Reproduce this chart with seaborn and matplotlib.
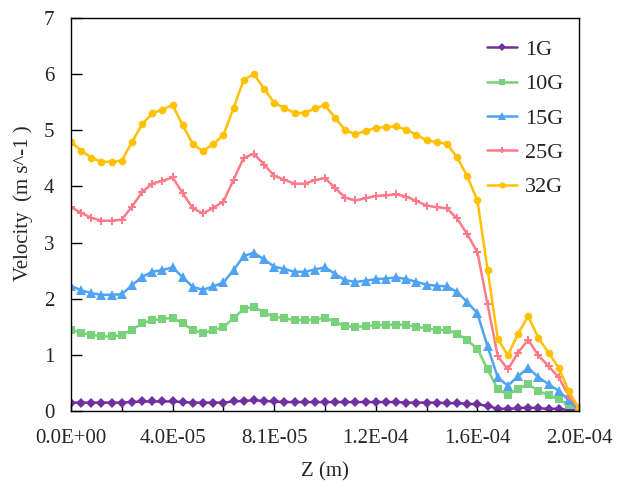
import numpy as np
import pandas as pd
import matplotlib

matplotlib.use("Agg")
import matplotlib.pyplot as plt
import seaborn as sns

# ===================== data =====================
z = np.linspace(0, 2.025e-4, 51)

v_1g = [0.15, 0.15, 0.15, 0.15, 0.15, 0.15, 0.16, 0.17, 0.17, 0.17,
        0.17, 0.16, 0.15, 0.15, 0.15, 0.15, 0.17, 0.18, 0.19, 0.18,
        0.17, 0.16, 0.16, 0.16, 0.16, 0.16, 0.16, 0.16, 0.16, 0.16,
        0.16, 0.16, 0.16, 0.15, 0.15, 0.15, 0.15, 0.14, 0.14, 0.13,
        0.12, 0.09, 0.04, 0.04, 0.05, 0.06, 0.05, 0.04, 0.04, 0.02, 0.02]
v_10g = [1.45, 1.39, 1.36, 1.33, 1.33, 1.35, 1.45, 1.56, 1.62, 1.64,
         1.66, 1.56, 1.44, 1.39, 1.44, 1.50, 1.65, 1.82, 1.86, 1.75,
         1.68, 1.65, 1.62, 1.62, 1.63, 1.66, 1.59, 1.51, 1.50, 1.51,
         1.53, 1.53, 1.54, 1.53, 1.50, 1.47, 1.45, 1.44, 1.38, 1.26,
         1.11, 0.74, 0.39, 0.29, 0.39, 0.48, 0.36, 0.28, 0.21, 0.11, 0.02]
v_15g = [2.23, 2.15, 2.10, 2.07, 2.07, 2.08, 2.24, 2.39, 2.48, 2.51,
         2.56, 2.38, 2.21, 2.16, 2.22, 2.29, 2.51, 2.76, 2.82, 2.70,
         2.57, 2.53, 2.48, 2.48, 2.52, 2.56, 2.44, 2.33, 2.30, 2.32,
         2.35, 2.36, 2.38, 2.35, 2.30, 2.25, 2.23, 2.22, 2.12, 1.94,
         1.74, 1.15, 0.60, 0.45, 0.62, 0.77, 0.60, 0.48, 0.36, 0.19, 0.02]
v_25g = [3.63, 3.53, 3.44, 3.39, 3.39, 3.41, 3.64, 3.90, 4.05, 4.10,
         4.16, 3.88, 3.61, 3.52, 3.62, 3.73, 4.12, 4.51, 4.58, 4.39,
         4.19, 4.12, 4.05, 4.05, 4.11, 4.15, 3.97, 3.80, 3.75, 3.79,
         3.83, 3.84, 3.86, 3.82, 3.74, 3.66, 3.63, 3.61, 3.43, 3.15,
         2.83, 1.90, 0.98, 0.74, 1.04, 1.27, 0.99, 0.80, 0.60, 0.27, 0.04]
v_32g = [4.79, 4.64, 4.51, 4.44, 4.44, 4.46, 4.79, 5.11, 5.30, 5.37,
         5.45, 5.09, 4.75, 4.63, 4.76, 4.91, 5.40, 5.90, 6.00, 5.74,
         5.49, 5.40, 5.31, 5.31, 5.39, 5.45, 5.22, 5.00, 4.93, 4.99,
         5.04, 5.06, 5.07, 5.01, 4.92, 4.82, 4.79, 4.76, 4.52, 4.18,
         3.75, 2.52, 1.29, 0.99, 1.38, 1.69, 1.30, 1.04, 0.77, 0.35, 0.04]

series = ["1G", "10G", "15G", "25G", "32G"]
values = [v_1g, v_10g, v_15g, v_25g, v_32g]

x_ticks = [0, 4.05e-5, 8.1e-5, 1.215e-4, 1.62e-4, 2.025e-4]
x_tick_labels = ["0.0E+00", "4.0E-05", "8.1E-05", "1.2E-04", "1.6E-04", "2.0E-04"]

# long-form table for seaborn
df = pd.concat(
    [pd.DataFrame({"Z": z, "Velocity": v, "case": s}) for s, v in zip(series, values)],
    ignore_index=True,
)

# ===================== style =====================
sns.set_style("ticks")
plt.rcParams["font.family"] = ["Liberation Serif", "DejaVu Serif"]

palette = {"1G": "#7030A0", "10G": "#78D27A", "15G": "#4FA3F2",
           "25G": "#FF7B8A", "32G": "#FFC000"}
markers = {"1G": "D", "10G": "s", "15G": "^", "25G": "P", "32G": "o"}
msizes = {"1G": 5.5, "10G": 6, "15G": 6.5, "25G": 5.5, "32G": 5.5}

fig = plt.figure(figsize=(6.25, 4.87), dpi=100)
ax = fig.add_axes([0.1136, 0.156, 0.8128, 0.807])

sns.lineplot(data=df, x="Z", y="Velocity", hue="case", style="case",
             palette=palette, markers=markers, dashes=False,
             linewidth=1.8, markersize=5, markeredgewidth=0, ax=ax)

# per-series marker sizes
for line, s in zip(ax.lines, series):
    line.set_markersize(msizes[s])

ax.set_xlim(0, 2.025e-4)
ax.set_ylim(0, 7)
ax.set_xticks(x_ticks)
ax.set_xticklabels(x_tick_labels)
ax.set_xticks(np.linspace(0, 2.025e-4, 11), minor=True)
ax.set_yticks(range(0, 8))

ax.tick_params(axis="both", which="both", direction="in", labelsize=15,
               color="black", width=1)
ax.tick_params(axis="x", which="major", length=5, pad=13)
ax.tick_params(axis="x", which="minor", length=5)
ax.tick_params(axis="y", length=8, pad=12)

for sp in ax.spines.values():
    sp.set_visible(True)
    sp.set_color("black")
    sp.set_linewidth(1)

ax.set_xlabel("Z (m)", fontsize=15, labelpad=10)
ax.set_ylabel("Velocity  (m s^-1 )", fontsize=15)
ax.yaxis.set_label_coords(-0.075, 0.53)

handles, labels = ax.get_legend_handles_labels()
for h, s in zip(handles, labels):
    h.set_markersize(msizes.get(s, 5) - 1)
leg = ax.legend(handles, labels, loc="upper right", frameon=False, fontsize=16,
                handlelength=1.35, handletextpad=0.35, labelspacing=0.62,
                borderaxespad=0.3, bbox_to_anchor=(1.0, 0.985))

fig.savefig("out.png", dpi=100)
plt.close(fig)
